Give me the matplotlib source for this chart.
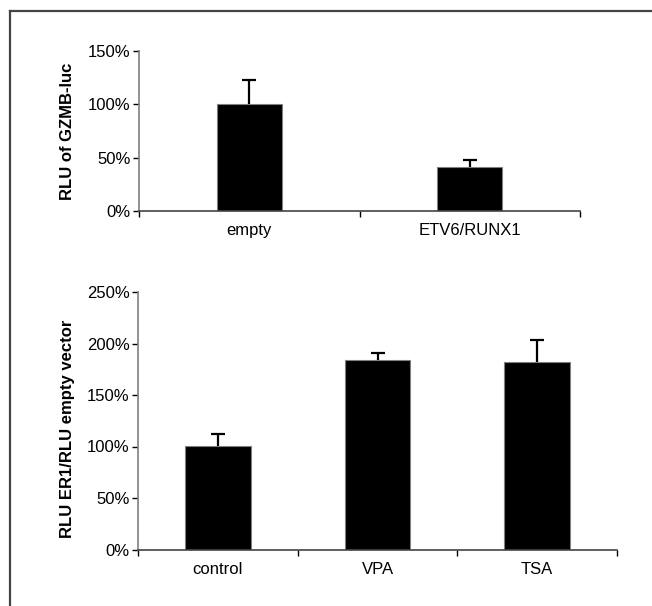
import matplotlib
matplotlib.use('Agg')
import matplotlib.pyplot as plt
from matplotlib.lines import Line2D
from matplotlib.ticker import FuncFormatter

plt.rcParams['font.family'] = ['Liberation Sans', 'DejaVu Sans']

# ── DATA ─────────────────────────────────────────────────────
top_labels = ['empty', 'ETV6/RUNX1']
top_values = [100, 41.5]
top_errors = [22.5, 6.5]
top_ticks = [0, 50, 100, 150]

bottom_labels = ['control', 'VPA', 'TSA']
bottom_values = [100.5, 184, 182.5]
bottom_errors = [11.5, 7, 20.5]
bottom_ticks = [0, 50, 100, 150, 200, 250]

# ── STYLE ────────────────────────────────────────────────────
W, H = 652, 606
fig = plt.figure(figsize=(W / 100, H / 100), dpi=100)
fig.patch.set_facecolor('white')

def px_axes(left, top, right, bottom):
    return fig.add_axes([left / W, 1 - bottom / H, (right - left) / W, (bottom - top) / H])

def excel_bar(ax, labels, values, errors, ticks, bar_width, ylabel):
    n = len(labels)
    xs = list(range(n))
    ax.bar(xs, values, width=bar_width, color='black', edgecolor='#808080', linewidth=0.8, zorder=2)
    # upper half of the error bar only
    _, caps, _ = ax.errorbar(xs, values, yerr=[[0] * n, errors], fmt='none', ecolor='black',
                             elinewidth=1.6, capsize=5, capthick=1.6, zorder=3)
    caps[0].set_visible(False)
    ax.set_xlim(-0.5, n - 0.5)
    ax.set_ylim(ticks[0], ticks[-1])
    ax.set_yticks(ticks)
    ax.yaxis.set_major_formatter(FuncFormatter(lambda v, p: f'{v:.0f}%'))
    # category boundaries get the tick marks, centres get the labels
    ax.set_xticks([i - 0.5 for i in range(n + 1)])
    ax.set_xticklabels([])
    ax.set_xticks(xs, minor=True)
    ax.set_xticklabels(labels, minor=True)
    ax.tick_params(axis='x', which='major', direction='out', length=4, width=1, color='black')
    ax.tick_params(axis='x', which='minor', length=0, pad=9, labelsize=12)
    ax.tick_params(axis='y', direction='out', length=4, width=1, color='black', pad=2, labelsize=12)
    for s in ['top', 'right']:
        ax.spines[s].set_visible(False)
    ax.spines['left'].set_color('#7f7f7f')
    ax.spines['left'].set_linewidth(1.2)
    ax.spines['bottom'].set_color('#444444')
    ax.spines['bottom'].set_linewidth(1.2)
    ax.set_ylabel(ylabel, fontsize=12, fontweight='bold')

ax1 = px_axes(139, 51, 580, 211)
excel_bar(ax1, top_labels, top_values, top_errors, top_ticks, 0.295, 'RLU of GZMB-luc')
ax1.yaxis.set_label_coords(-(139 - 75) / (580 - 139), 0.5)

ax2 = px_axes(138, 292, 617, 549.5)
excel_bar(ax2, bottom_labels, bottom_values, bottom_errors, bottom_ticks, 0.41, 'RLU ER1/RLU empty vector')
ax2.yaxis.set_label_coords(-(138 - 75) / (617 - 138), 0.47)

# frame: top and left edges only
fig.add_artist(Line2D([10 / W, 1], [1 - 11 / H, 1 - 11 / H], color='#444444', linewidth=1.6))
fig.add_artist(Line2D([10 / W, 10 / W], [1 - 11 / H, 0], color='#444444', linewidth=1.6))

fig.savefig('out.png', dpi=100, facecolor='white')
